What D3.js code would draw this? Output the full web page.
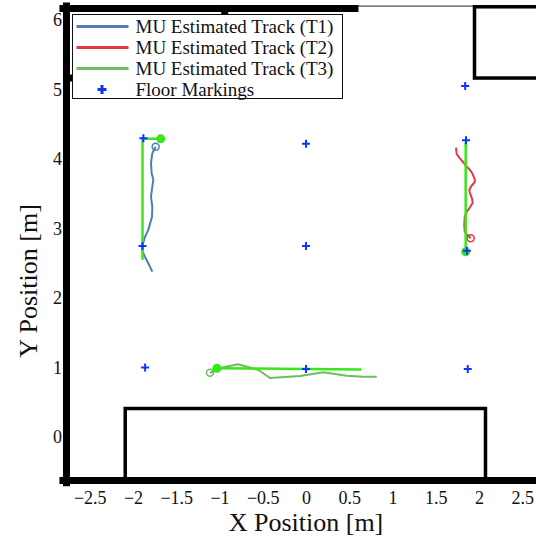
<!DOCTYPE html>
<html>
<head>
<meta charset="utf-8">
<script src="https://cdn.jsdelivr.net/npm/d3@7"></script>
<style>
  html, body { margin: 0; padding: 0; background: #fff; }
  svg { display: block; }
  text { font-family: "Liberation Serif", "Times New Roman", serif; fill: #111; }
</style>
</head>
<body>
<svg id="chart" width="536" height="540"></svg>
<script>
// ---- data (metres) ----
const xTicks = [-2.5, -2, -1.5, -1, -0.5, 0, 0.5, 1, 1.5, 2, 2.5];
const yTicks = [0, 1, 2, 3, 4, 5, 6];

const seriesNames = ["MU Estimated Track (T1)", "MU Estimated Track (T2)", "MU Estimated Track (T3)"];
const markingsName = "Floor Markings";

// estimated tracks
const track1X = [-1.738, -1.754, -1.777, -1.792, -1.784, -1.765, -1.777, -1.792, -1.777, -1.780, -1.803, -1.823, -1.861, -1.892, -1.896, -1.861, -1.823, -1.777];
const track1Y = [4.177, 4.14, 4.08, 3.94, 3.79, 3.70, 3.60, 3.46, 3.31, 3.17, 3.07, 2.98, 2.88, 2.76, 2.69, 2.59, 2.50, 2.38];

const track2X = [1.904, 1.865, 1.835, 1.830, 1.835, 1.858, 1.896, 1.927, 1.919, 1.896, 1.888, 1.911, 1.946, 1.954, 1.927, 1.896, 1.858, 1.818, 1.772, 1.742, 1.734];
const track2Y = [2.859, 2.906, 2.954, 3.050, 3.170, 3.242, 3.305, 3.371, 3.434, 3.506, 3.554, 3.612, 3.659, 3.698, 3.784, 3.842, 3.889, 3.953, 4.019, 4.072, 4.163];

const track3X = [-1.110, -0.956, -0.783, -0.551, -0.416, -0.069, 0.200, 0.471, 0.662, 0.817];
const track3Y = [0.925, 1.003, 1.046, 0.964, 0.849, 0.878, 0.931, 0.882, 0.868, 0.868];

// reference (ground-truth) paths
const truth1X = [-1.68, -1.89, -1.89];
const truth1Y = [4.29, 4.29, 2.55];
const truth2X = [1.846, 1.846];
const truth2Y = [2.666, 4.245];
const truth3X = [-1.03, 0.64];
const truth3Y = [0.99, 0.97];

// floor markings
const markX = [-1.88, 0, 1.85, 1.84, 0, -1.89, 1.86, -1.86, 0, 1.87];
const markY = [4.30, 4.22, 4.27, 5.05, 2.75, 2.75, 2.68, 1.0, 0.98, 0.98];

// room geometry: walls as polylines, obstacles as rectangles [x0, y0, x1, y1]
const wallLeft = [[-2.769, -0.66], [-2.769, 6.2]];
const wallTop = [[-2.81, 6.166], [0.566, 6.166]];
const wallBottom = [[-2.81, -0.626], [2.9, -0.626]];
const hiddenWallA = [[-2.769, 5.165], [-2.3, 5.165]];
const hiddenWallB = [[-0.94, 6.166], [-0.94, 5.9]];
const tableRect = [-2.09, -0.626, 2.075, 0.41];
const cabinetRect = [1.948, 5.165, 2.9, 6.19];
const frameTop = [[-2.8, 6.2], [2.9, 6.2]];

// ---- styling ----
const colors = ["#4f7fae", "#e8383f", "#6cbd5e"];
const truthColor = "#39e61c";
const markColor = "#1034ff";

const svg = d3.select("#chart");
const x = d3.scaleLinear().domain([-2.5, 2.5]).range([89.75, 522.25]);
const y = d3.scaleLinear().domain([0, 6]).range([437, 20]);

const line = d3.line().x(d => x(d[0])).y(d => y(d[1]));
const zip = (xs, ys) => xs.map((v, i) => [v, ys[i]]);

const plot = svg.append("g");

// thin frame line along the top
plot.append("path").attr("d", line(frameTop))
  .attr("stroke", "#222").attr("stroke-width", 1).attr("fill", "none");

// obstacles
[tableRect, cabinetRect].forEach(r => {
  plot.append("rect")
    .attr("x", x(r[0])).attr("y", y(r[3]))
    .attr("width", x(r[2]) - x(r[0])).attr("height", y(r[1]) - y(r[3]))
    .attr("fill", "none").attr("stroke", "#000").attr("stroke-width", 3.5);
});

// walls
[wallLeft, wallTop, wallBottom, hiddenWallA, hiddenWallB].forEach(w => {
  plot.append("path").attr("d", line(w))
    .attr("stroke", "#000").attr("stroke-width", 7).attr("fill", "none")
    .attr("stroke-linecap", "square");
});

// estimated tracks with start markers
const tracks = [zip(track1X, track1Y), zip(track2X, track2Y), zip(track3X, track3Y)];
tracks.forEach((t, i) => {
  plot.append("path").attr("d", line(t))
    .attr("stroke", colors[i]).attr("stroke-width", 2).attr("fill", "none")
    .attr("stroke-linejoin", "round");
  plot.append("circle").attr("cx", x(t[0][0])).attr("cy", y(t[0][1])).attr("r", 3.5)
    .attr("fill", "none").attr("stroke", colors[i]).attr("stroke-width", 1.5);
});

// reference paths with filled start markers
const truths = [zip(truth1X, truth1Y), zip(truth2X, truth2Y), zip(truth3X, truth3Y)];
truths.forEach(t => {
  plot.append("path").attr("d", line(t))
    .attr("stroke", truthColor).attr("stroke-width", 2.5).attr("fill", "none");
  plot.append("circle").attr("cx", x(t[0][0])).attr("cy", y(t[0][1])).attr("r", 4.5)
    .attr("fill", truthColor);
});

// floor markings as "+" markers
plot.selectAll(".mark").data(zip(markX, markY)).enter()
  .append("path").attr("class", "mark")
  .attr("transform", d => `translate(${x(d[0])},${y(d[1])})`)
  .attr("d", "M-4,0H4M0,-4V4")
  .attr("stroke", markColor).attr("stroke-width", 2).attr("fill", "none");

// axes
const fmt = d => (d < 0 ? "\u2212" : "") + Math.abs(d);
const xAxis = svg.append("g").attr("transform", "translate(0,491)")
  .call(d3.axisBottom(x).tickValues(xTicks).tickFormat(fmt).tickSize(0).tickPadding(0));
xAxis.select(".domain").remove();
xAxis.selectAll("text").attr("font-size", 18).attr("dy", "0.71em")
  .attr("font-family", "Liberation Serif, serif").attr("fill", "#111");

const yAxis = svg.append("g").attr("transform", "translate(62,0)")
  .call(d3.axisLeft(y).tickValues(yTicks).tickFormat(fmt).tickSize(0).tickPadding(0));
yAxis.select(".domain").remove();
yAxis.selectAll("text").attr("font-size", 18)
  .attr("font-family", "Liberation Serif, serif").attr("fill", "#111");

// axis titles
svg.append("text").attr("x", 306).attr("y", 531).attr("text-anchor", "middle")
  .attr("font-size", 26).text("X Position [m]");
svg.append("text").attr("transform", "translate(37,281) rotate(-90)")
  .attr("text-anchor", "middle").attr("font-size", 26).text("Y Position [m]");

// legend
const legend = svg.append("g").attr("transform", "translate(72.5,14.5)");
legend.append("rect").attr("width", 270).attr("height", 84)
  .attr("fill", "#fff").attr("stroke", "#111").attr("stroke-width", 1);
seriesNames.forEach((name, i) => {
  const yy = 12 + i * 21;
  legend.append("line").attr("x1", 4).attr("x2", 56).attr("y1", yy).attr("y2", yy)
    .attr("stroke", colors[i]).attr("stroke-width", 3);
  legend.append("text").attr("x", 63).attr("y", yy + 6.5).attr("font-size", 19).text(name);
});
const yy = 12 + 3 * 21;
legend.append("path").attr("transform", `translate(29.5,${yy})`).attr("d", "M-4.5,0H4.5M0,-4.5V4.5")
  .attr("stroke", markColor).attr("stroke-width", 3).attr("fill", "none");
legend.append("text").attr("x", 63).attr("y", yy + 6.5).attr("font-size", 19).text(markingsName);
</script>
</body>
</html>
